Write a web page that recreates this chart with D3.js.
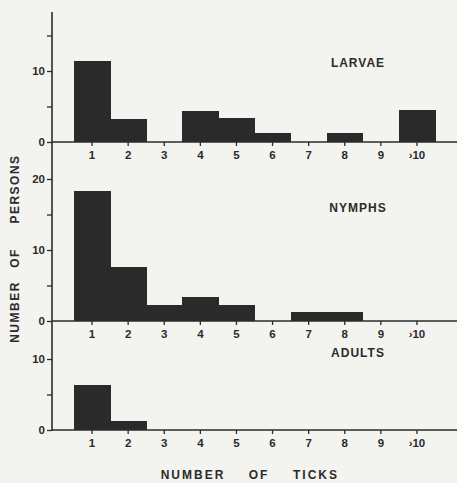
<!DOCTYPE html>
<html>
<head>
<meta charset="utf-8">
<script src="https://cdn.jsdelivr.net/npm/d3@7"></script>
<style>
  body { margin: 0; background: #f3f3f0; }
  svg { display: block; }
  text { font-family: "Liberation Sans", Arial, sans-serif; font-weight: bold; fill: #2b2b2b; }
</style>
</head>
<body>
<div id="chart"></div>
<script>
// ticks per person
const categories = ['1', '2', '3', '4', '5', '6', '7', '8', '9', '›10'];
const larvae = [11.4, 3.2, 0, 4.4, 3.35, 1.3, 0, 1.3, 0, 4.5];
const nymphs = [18.3, 7.6, 2.2, 3.4, 2.3, 0, 1.2, 1.2, 0, 0];
const adults = [6.3, 1.2, 0, 0, 0, 0, 0, 0, 0, 0];

const panels = [
    { name: 'LARVAE', values: larvae, ticks: [0, 5, 10, 15], base: 142, top10: 71, titleY: 63 },
    { name: 'NYMPHS', values: nymphs, ticks: [0, 5, 10, 15, 20], base: 321, top10: 250, titleY: 208 },
    { name: 'ADULTS', values: adults, ticks: [0, 5, 10], base: 430, top10: 359, titleY: 353 }
];

var width = 457, height = 483;
var axisX = 52;
var ink = '#2b2b2b';

var svg = d3.select('#chart')
    .append('svg')
    .attr('width', width)
    .attr('height', height);

var x = d3.scaleBand()
    .domain(categories)
    .range([74, 435])
    .padding(0);

// continuous vertical axis
svg.append('line')
    .attr('x1', axisX).attr('x2', axisX)
    .attr('y1', 12).attr('y2', 431)
    .attr('stroke', ink).attr('stroke-width', 1.6);

panels.forEach(p => {
    var y = d3.scaleLinear()
        .domain([0, 10])
        .range([p.base, p.top10]);

    // bars (slightly overlapped so neighbours merge like the print)
    svg.append('g')
        .selectAll('rect')
        .data(p.values)
        .enter()
        .append('rect')
        .attr('x', (d, i) => x(categories[i]))
        .attr('y', d => y(d))
        .attr('width', x.bandwidth() + 0.6)
        .attr('height', d => p.base - y(d))
        .attr('fill', '#2a2a2a')
        .attr('shape-rendering', 'crispEdges');

    // baseline
    svg.append('line')
        .attr('x1', axisX).attr('x2', width)
        .attr('y1', p.base).attr('y2', p.base)
        .attr('stroke', ink).attr('stroke-width', 1.6);

    // y axis ticks
    var yAxis = svg.append('g')
        .attr('transform', 'translate(' + axisX + ',0)')
        .call(d3.axisLeft(y)
            .tickValues(p.ticks)
            .tickFormat(d => d % 10 === 0 ? d : '')
            .tickSize(5)
            .tickPadding(2));
    yAxis.select('.domain').remove();
    yAxis.selectAll('line').attr('stroke', ink).attr('stroke-width', 1.3);
    yAxis.selectAll('text').style('font-size', '11.5px').attr('fill', ink);

    // x axis ticks
    var xAxis = svg.append('g')
        .attr('transform', 'translate(0,' + p.base + ')')
        .call(d3.axisBottom(x).tickSize(4).tickPadding(5));
    xAxis.select('.domain').remove();
    xAxis.selectAll('line').attr('stroke', ink).attr('stroke-width', 1.3);
    xAxis.selectAll('text').style('font-size', '11.5px').attr('fill', ink);

    // panel title
    svg.append('text')
        .attr('x', 358)
        .attr('y', p.titleY)
        .attr('dy', '0.35em')
        .attr('text-anchor', 'middle')
        .style('font-size', '12px')
        .style('letter-spacing', '1px')
        .text(p.name);
});

// x axis title
[['NUMBER', 193], ['OF', 259], ['TICKS', 316]].forEach(w => {
    svg.append('text')
        .attr('x', w[1]).attr('y', 475)
        .attr('dy', '0.35em')
        .attr('text-anchor', 'middle')
        .style('font-size', '12px')
        .style('letter-spacing', '2px')
        .text(w[0]);
});

// y axis title
[['NUMBER', 312], ['OF', 258], ['PERSONS', 189]].forEach(w => {
    svg.append('text')
        .attr('transform', 'translate(15,' + w[1] + ')rotate(-90)')
        .attr('dy', '0.35em')
        .attr('text-anchor', 'middle')
        .style('font-size', '12px')
        .style('letter-spacing', '1.5px')
        .text(w[0]);
});
</script>
</body>
</html>
